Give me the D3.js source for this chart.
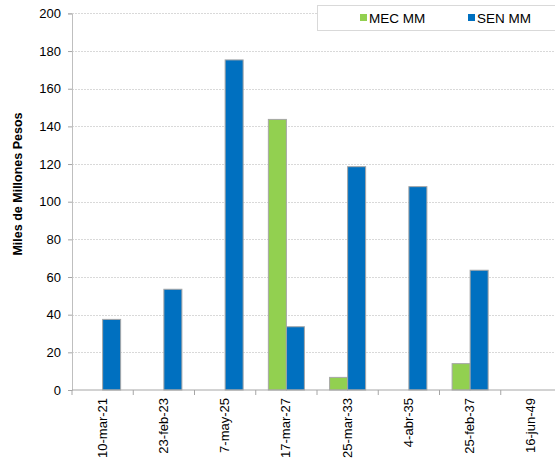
<!DOCTYPE html>
<html><head><meta charset="utf-8">
<script src="https://cdn.jsdelivr.net/npm/d3@7"></script>
<style>body{margin:0;background:#fff}svg{display:block;font-family:"Liberation Sans",Arial,sans-serif}</style>
</head><body><div id="chart"></div>
<script>
const categories = ["10-mar-21","23-feb-23","7-may-25","17-mar-27","25-mar-33","4-abr-35","25-feb-37","16-jun-49"];
const seriesNames = ["MEC MM","SEN MM"];
const mecValues = [0,0,0,143.7,6.7,0,14,0];
const senValues = [37.5,53.5,175.3,33.6,118.6,108,63.6,0];
const yTicks = [0,20,40,60,80,100,120,140,160,180,200];
const colors = ["#92D050","#0070C0"];

(function(){
const W=555,H=461;
const svg=d3.select("#chart").append("svg").attr("width",W).attr("height",H);
const pLeft=72,pRight=562,pTop=13.4,pBottom=390;
const x=d3.scaleBand().domain(categories).range([pLeft,pRight]).paddingInner(0).paddingOuter(0);
const x1=d3.scaleBand().domain(seriesNames).range([0,x.bandwidth()]).paddingInner(0).paddingOuter(0.7);
const y=d3.scaleLinear().domain([0,200]).range([pBottom,pTop]);

// gridlines
svg.append("g").selectAll("line").data(yTicks.filter(d=>d>0)).join("line")
 .attr("x1",pLeft).attr("x2",pRight).attr("y1",d=>Math.round(y(d))+0.5).attr("y2",d=>Math.round(y(d))+0.5)
 .attr("stroke","#d9d9d9").attr("stroke-dasharray","2,1").attr("stroke-width",1);

// bars
const data=categories.map((c,i)=>({c,vals:[mecValues[i],senValues[i]]}));
const g=svg.append("g");
data.forEach(d=>{
  d.vals.forEach((v,j)=>{
    if(v<=0) return;
    g.append("rect").attr("x",x(d.c)+x1(seriesNames[j])).attr("width",x1.bandwidth())
     .attr("y",y(v)).attr("height",y(0)-y(v)).attr("fill",colors[j])
     .attr("stroke","#a6a6a6").attr("stroke-width",1);
  });
});

// y axis
const ya=svg.append("g").attr("transform",`translate(${pLeft},0)`)
 .call(d3.axisLeft(y).tickValues(yTicks).tickSize(4).tickPadding(7));
ya.select(".domain").attr("stroke","#bfbfbf");
ya.selectAll(".tick line").attr("stroke","#a6a6a6");
ya.selectAll("text").attr("font-size","13px").attr("fill","#000").attr("font-family","Liberation Sans, Arial, sans-serif");

// x axis
const xa=svg.append("g").attr("transform",`translate(0,${pBottom})`);
xa.append("line").attr("x1",pLeft).attr("x2",pRight).attr("stroke","#a6a6a6");
xa.selectAll("line.t").data(categories.concat(["_end"])).join("line").attr("class","t")
 .attr("x1",(d,i)=>pLeft+i*x.bandwidth()).attr("x2",(d,i)=>pLeft+i*x.bandwidth())
 .attr("y1",0).attr("y2",5).attr("stroke","#a6a6a6");
xa.selectAll("text").data(categories).join("text")
 .attr("transform",d=>`translate(${x(d)+x.bandwidth()/2+4},8) rotate(-90)`)
 .attr("text-anchor","end").attr("font-size","13px").attr("fill","#000").text(d=>d);

// y title
svg.append("text").attr("transform","translate(22,184) rotate(-90)")
 .attr("text-anchor","middle").attr("font-size","12.5px").attr("font-weight","bold").text("Miles de Millones Pesos");

// legend
svg.append("rect").attr("x",317.5).attr("y",5.5).attr("width",250).attr("height",25)
 .attr("fill","#fff").attr("stroke","#d9d9d9");
const lx=[360,468];
seriesNames.forEach((n,i)=>{
  svg.append("rect").attr("x",lx[i]).attr("y",14).attr("width",7).attr("height",7).attr("fill",colors[i]);
  svg.append("text").attr("x",lx[i]+9).attr("y",22.5).attr("font-size","13.5px").attr("fill","#000").text(n);
});
})();
</script></body></html>
